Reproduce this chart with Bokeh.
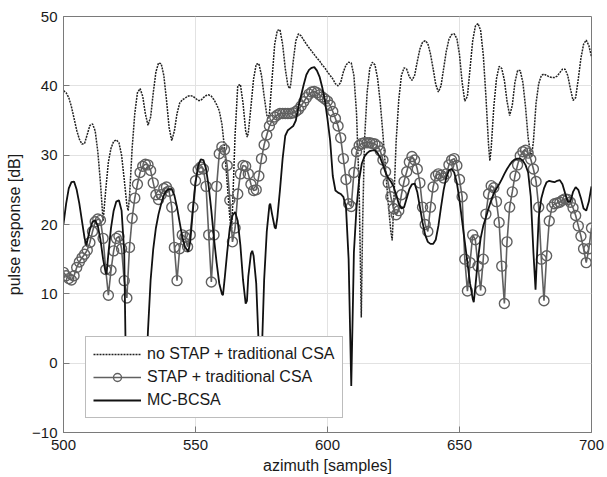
from bokeh.plotting import figure
from bokeh.models import Range1d, FixedTicker
from bokeh.embed import file_html
from bokeh.resources import INLINE

# ---------------- data ----------------
x_ticks = [500, 550, 600, 650, 700]
y_ticks = [-10, 0, 10, 20, 30, 40, 50]

# no STAP + traditional CSA (dotted)
nostap_x = [500, 501, 502, 503, 504, 505, 506, 507, 508, 509, 510, 511, 512, 513, 514, 515, 516, 517, 518, 519,
            520, 521, 522, 523, 524, 524.5, 525, 526, 527, 528, 529, 530, 531, 532, 533, 534, 535, 536, 537, 538,
            539, 540, 541, 542, 543, 544, 545, 546, 547, 548, 549, 550, 551, 552, 553, 554, 555, 556, 557, 558,
            559, 560, 561, 562, 563, 563.6, 564, 565, 566, 567, 568, 569, 569.6, 570, 571, 572, 573, 574, 575, 576,
            577, 577.5, 578, 579, 580, 581, 582, 583, 584, 585, 585.7, 586, 587, 588, 589, 590, 591, 592, 593, 594,
            595, 596, 597, 598, 599, 600, 601, 602, 603, 604, 605, 606, 607, 608, 609, 610, 611, 612, 612.8, 613.3,
            614, 615, 616, 617, 618, 619, 620, 621, 622, 623, 624, 624.5, 625, 626, 627, 628, 629, 630, 631, 632,
            633, 634, 635, 636, 637, 638, 639, 640, 641, 642, 643, 644, 645, 646, 647, 648, 649, 650, 651, 652,
            653, 654, 655, 656, 657, 658, 659, 660, 661, 661.5, 662, 663, 664, 665, 666, 667, 668, 669, 670, 671,
            672, 673, 674, 675, 676, 677, 677.3, 678, 679, 680, 681, 682, 683, 684, 685, 686, 687, 688, 689, 690,
            691, 692, 693, 694, 695, 696, 697, 698, 699, 700]
nostap_y = [39.3, 39.0, 38.3, 37.0, 35.3, 33.6, 32.3, 31.6, 31.7, 33.0, 34.3, 34.5, 33.5, 30.5, 26.0, 20.5, 25.0, 29.0, 31.0, 32.0,
            32.2, 31.8, 30.0, 26.5, 22.8, 22.0, 24.0, 31.0, 36.0, 39.0, 39.6, 38.5, 36.0, 34.3, 35.5, 39.0, 42.0, 43.3, 43.2, 41.5,
            38.0, 34.0, 32.1, 33.5, 36.0, 37.5, 38.0, 38.2, 38.5, 38.6, 38.5, 38.2, 37.9, 37.9, 38.3, 38.6, 38.7, 38.5, 38.0, 37.3,
            36.4, 34.5, 31.0, 26.0, 21.0, 19.0, 22.0, 33.0, 40.0, 40.2, 37.5, 33.5, 32.6, 33.2, 37.0, 41.0, 43.1, 43.2, 41.5, 38.5,
            35.8, 35.3, 36.0, 41.0, 46.0, 48.0, 48.1, 46.0, 42.5, 40.0, 39.6, 40.0, 43.5, 46.5, 47.5, 47.2, 46.6, 46.0, 45.5, 45.0,
            44.5, 44.0, 43.6, 43.0, 42.6, 42.0, 41.5, 41.0, 40.3, 40.0, 40.5, 42.0, 43.0, 43.4, 43.3, 41.5, 36.0, 25.0, 6.6, 20.0,
            32.0, 39.0, 42.5, 43.4, 43.0, 41.0, 37.5, 33.0, 28.0, 23.0, 19.0, 17.7, 22.0, 32.0, 38.0, 41.5, 42.6, 42.4, 41.3, 40.8,
            41.5, 43.5, 45.3, 46.3, 46.5, 46.1, 44.6, 42.5, 40.2, 39.1, 40.0, 42.5, 45.0, 46.7, 47.4, 47.5, 46.8, 44.5, 40.5, 37.8,
            38.5, 42.5, 46.5, 48.6, 49.0, 48.0, 44.5, 38.5, 31.5, 29.2, 31.0, 37.0, 41.0, 42.8, 42.5, 40.8, 37.8, 35.7, 37.2, 40.5,
            42.2, 42.2, 40.5, 37.0, 32.5, 30.0, 29.8, 32.0, 37.5, 40.3, 41.5, 41.7, 41.5, 41.3, 41.2, 41.2, 41.4, 41.9, 42.4, 42.4,
            41.5, 39.6, 37.9, 38.3, 41.0, 44.0, 46.0, 46.6, 45.8, 44.2]

# STAP + traditional CSA (one marker per sample, 500..700)
stap_x = list(range(500, 701))
stap_y = [13.1, 12.6, 12.2, 12.0, 12.6, 13.8, 14.6, 15.2, 15.7, 16.3,
          17.4, 19.0, 20.4, 20.8, 20.6, 18.0, 13.5, 9.8, 13.4, 16.2,
          18.0, 18.3, 16.5, 11.9, 9.4, 16.7, 20.9, 23.8, 25.8, 27.5,
          28.4, 28.7, 28.6, 27.8, 26.0, 24.3, 23.6, 24.3, 25.2, 25.4,
          24.8, 22.5, 16.7, 11.9, 16.5, 18.5, 18.2, 16.8, 18.5, 22.5,
          26.3, 27.9, 28.3, 28.0, 25.5, 18.5, 11.7, 18.5, 25.5, 30.2,
          31.2, 30.8, 28.5, 23.5, 17.5, 19.5, 24.4, 27.3, 28.5, 28.4,
          27.3, 25.8, 24.9, 25.0, 27.0, 29.5, 31.5, 32.9, 34.2, 35.0,
          35.5, 35.8, 36.0, 36.0, 36.0, 36.0, 36.0, 36.1, 36.3, 36.6,
          37.1, 37.7, 38.3, 38.8, 39.1, 39.2, 39.0, 38.7, 38.4, 38.1,
          37.8, 37.2, 36.3, 35.3, 34.2, 32.5, 29.5, 26.5, 23.0, 22.6,
          27.5, 30.5, 31.4, 31.7, 31.8, 31.8, 31.8, 31.7, 31.6, 31.3,
          30.6, 29.3, 27.6, 26.0, 24.0, 22.3, 21.4, 22.0, 24.3, 26.2,
          27.6, 29.0, 29.8, 29.3, 28.0, 26.0, 22.5, 20.0, 19.0, 22.5,
          25.4, 27.0, 27.3, 27.1, 26.7, 27.3, 28.6, 29.3, 29.5, 28.5,
          26.5, 24.0, 15.0, 10.4, 14.5, 18.5, 17.8, 14.0, 10.5, 15.0,
          21.5, 24.4, 25.6, 25.3, 23.3, 20.3, 14.0, 8.6, 17.5, 22.5,
          24.7, 27.0, 28.6, 29.9, 30.5, 30.7, 30.3, 29.4, 28.0, 26.2,
          22.5, 15.0, 9.0, 15.5, 20.5, 22.5, 23.0, 23.1, 23.2, 23.5,
          23.7, 23.6, 23.2, 22.4, 21.3, 19.8, 18.3, 16.5, 14.5, 16.5,
          19.5]

# MC-BCSA (solid)
mc_x = [500, 501, 502, 503, 504, 505, 506, 507, 508, 508.7, 509, 510, 511, 512, 513, 514, 515, 516, 516.3, 517,
        518, 519, 520, 521, 522, 523, 523.8, 525, 526, 527, 527.5, 528, 529, 530, 531, 532, 533, 534, 535, 536,
        537, 538, 539, 540, 541, 542, 543, 544, 545, 546, 547, 547.3, 548, 549, 550, 551, 552, 553, 554, 555,
        556, 557, 558, 559, 560, 560.4, 561, 562, 563, 564, 565, 566, 567, 568, 569, 569.5, 570, 571, 571.5, 572,
        573, 574, 574.6, 575, 576, 577, 578, 578.3, 579, 580, 580.4, 581, 582, 583, 584, 585, 586, 587, 588, 589,
        590, 591, 592, 593, 594, 595, 596, 597, 598, 599, 600, 601, 602, 603, 604, 605, 606, 607, 608, 609,
        609.7, 610, 611, 612, 613, 614, 615, 616, 617, 618, 619, 620, 621, 622, 623, 624, 625, 626, 627, 628,
        629, 630, 631, 632, 633, 634, 635, 636, 637, 638, 639, 640, 641, 642, 643, 644, 645, 646, 647, 648,
        649, 650, 651, 652, 653, 654, 655, 655.4, 656, 657, 658, 659, 660, 661, 662, 663, 664, 665, 666, 667,
        668, 669, 670, 671, 672, 673, 674, 675, 676, 677, 678, 678.8, 679.3, 680, 681, 682, 683, 684, 685, 686,
        687, 688, 689, 690, 691, 692, 693, 694, 695, 696, 697, 698, 699, 700]
mc_y = [20.1, 23.0, 25.2, 26.1, 26.2, 25.0, 23.0, 20.5, 18.0, 17.0, 17.6, 19.3, 20.4, 20.6, 19.8, 17.8, 15.0, 13.0, 12.8, 15.8,
        19.5, 22.0, 23.3, 23.5, 22.0, 16.0, -5.0, -1.0, 0.5, 1.2, 1.3, 1.2, 0.3, -2.0, -5.0, 4.7, 12.0, 16.5, 19.5, 21.5,
        23.0, 24.2, 24.9, 25.1, 25.1, 24.2, 22.5, 20.3, 18.2, 16.8, 16.2, 16.1, 17.5, 22.0, 26.0, 28.5, 29.4, 29.3, 28.0, 25.5,
        22.0, 18.0, 14.5, 11.5, 10.0, 9.8, 12.0, 16.0, 19.5, 21.3, 21.8, 20.5, 17.0, 12.0, 8.6, 9.0, 12.5, 15.8, 16.2, 15.5,
        11.5, 2.0, -5.0, 0.0, 12.0, 19.0, 22.8, 23.0, 21.5, 19.6, 19.4, 21.0, 25.0, 29.5, 32.8, 33.6, 33.9, 34.2, 35.0, 37.0,
        38.6, 40.2, 41.6, 42.3, 42.6, 42.7, 42.2, 41.3, 39.8, 37.9, 35.2, 32.1, 27.0, 24.9, 24.6, 24.4, 24.0, 22.5, 15.0, -3.3,
        10.0, 16.0, 22.5, 26.5, 28.8, 29.8, 30.3, 30.6, 30.7, 30.7, 30.3, 29.6, 28.6, 27.5, 26.7, 26.2, 25.5, 24.3, 23.0, 22.3,
        22.5, 23.8, 25.1, 25.8, 25.9, 24.7, 22.5, 20.3, 18.5, 17.5, 17.2, 17.2, 17.8, 19.8, 22.5, 25.0, 26.8, 27.8, 28.0, 27.5,
        26.0, 23.5, 20.5, 17.5, 14.5, 11.5, 9.3, 8.8, 11.0, 15.0, 18.0, 19.8, 21.0, 22.3, 23.5, 24.5, 25.2, 25.8, 26.5, 27.3,
        28.0, 28.6, 29.1, 29.4, 29.5, 29.5, 29.2, 28.6, 27.5, 24.0, 16.0, 10.6, 15.0, 21.0, 23.8, 25.2, 26.1, 26.3, 26.2, 26.1,
        26.3, 26.4, 25.8, 24.5, 23.3, 23.3, 24.7, 25.4, 25.0, 23.8, 22.3, 22.0, 23.3, 25.5]

# ---------------- figure ----------------
FONT = "Liberation Sans"
AX = "#7a7a7a"

p = figure(width=607, height=477, output_backend="svg", toolbar_location=None,
           x_range=Range1d(500, 700), y_range=Range1d(-10, 50),
           min_border_left=63, min_border_right=16, min_border_top=16, min_border_bottom=45,
           background_fill_color="white", border_fill_color="white")
p.outline_line_color = AX
p.outline_line_width = 1

p.xaxis.ticker = FixedTicker(ticks=x_ticks)
p.yaxis.ticker = FixedTicker(ticks=y_ticks)
p.xgrid.ticker = FixedTicker(ticks=x_ticks)
p.ygrid.ticker = FixedTicker(ticks=y_ticks)
p.xgrid.grid_line_color = "#e2e2e2"
p.ygrid.grid_line_color = "#e2e2e2"

xa = p.xaxis[0]
ya = p.yaxis[0]
xa.axis_label = "azimuth [samples]"
ya.axis_label = "pulse response [dB]"

for ax in [xa, ya]:
    ax.axis_line_color = AX
    ax.major_tick_line_color = AX
    ax.major_tick_in = 6
    ax.major_tick_out = 0
    ax.minor_tick_line_color = None
    ax.major_label_text_font = FONT
    ax.major_label_text_font_size = "15px"
    ax.major_label_text_color = "#1a1a1a"
    ax.axis_label_text_font = FONT
    ax.axis_label_text_font_style = "normal"
    ax.axis_label_text_color = "#1a1a1a"
    ax.axis_label_text_font_size = "16px"

xa.major_label_standoff = 7
ya.major_label_standoff = 6
xa.axis_label_standoff = 4
ya.axis_label_standoff = 6

p.line(nostap_x, nostap_y, line_color="#222222", line_width=1.5, line_dash="2 1",
       legend_label="no STAP + traditional CSA")
p.line(stap_x, stap_y, line_color="#606060", line_width=1.6, legend_label="STAP + traditional CSA")
p.scatter(stap_x, stap_y, marker="circle", size=10, line_color="#606060", line_width=1.4,
          fill_color=None, legend_label="STAP + traditional CSA")
p.line(mc_x, mc_y, line_color="#111111", line_width=1.8, legend_label="MC-BCSA")

lg = p.legend[0]
lg.location = (22, 14)
lg.margin = 0
lg.padding = 7
lg.spacing = 3
lg.glyph_width = 48
lg.glyph_height = 20
lg.label_height = 20
lg.label_standoff = 6
lg.label_text_font = FONT
lg.label_text_font_size = "16px"
lg.label_text_color = "#1a1a1a"
lg.border_line_color = AX
lg.border_line_width = 1
lg.background_fill_color = "white"
lg.background_fill_alpha = 1.0

open("out.html", "w").write(file_html(p, INLINE))
